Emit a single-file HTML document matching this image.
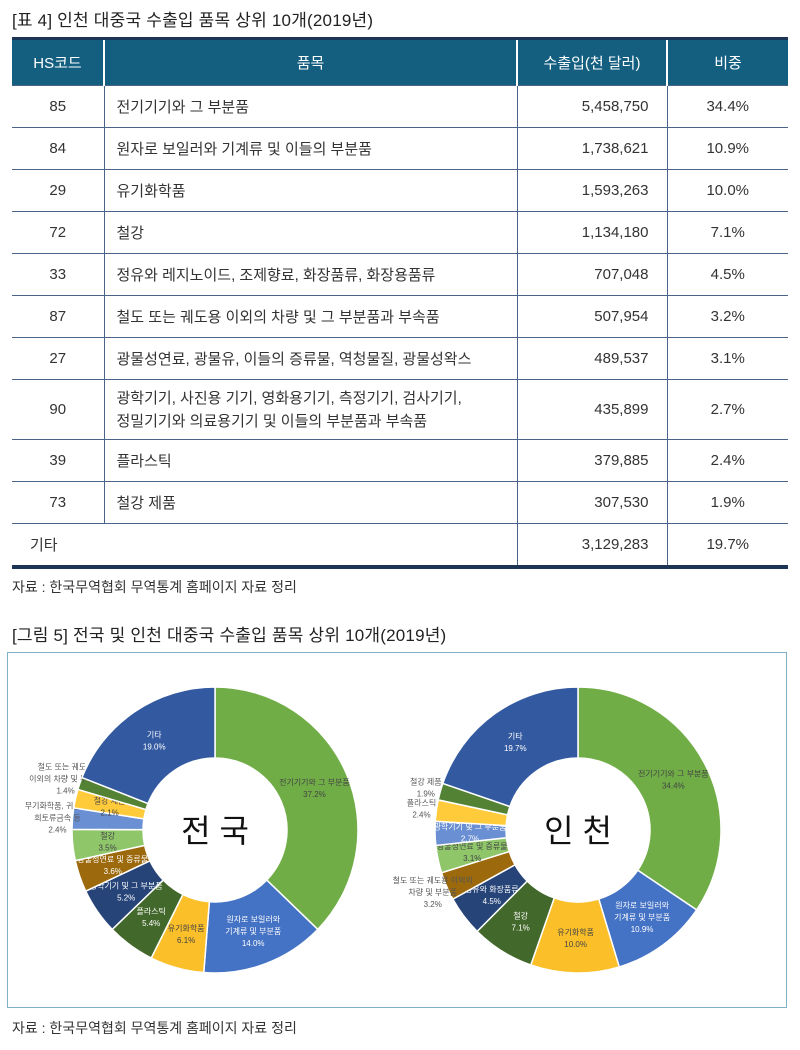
<!DOCTYPE html>
<html><head><meta charset="utf-8">
<style>
body{margin:0;width:800px;height:1050px;background:#fff;font-family:"Liberation Sans","Noto Sans CJK KR",sans-serif;color:#222;position:relative;overflow:hidden}
.title{position:absolute;left:12px;font-size:17px;color:#222;letter-spacing:0.2px}
table{position:absolute;left:12px;top:37px;width:776px;border-collapse:collapse;font-size:15px;color:#333}
th{background:#145f80;color:#fff;font-weight:normal;height:43px;border-left:2px solid #fff;border-top:3px solid #1c3555}
th:first-child{border-left:none}
td{border-top:1.5px solid #4a6388;height:41px;padding:0}
td.c{text-align:center}
td.n{text-align:right;padding-right:18px}
td.p{padding-left:12px}
td+td{border-left:1.5px solid #4a6388}
tr:last-child td{border-bottom:4px solid #1c3555}
.src{position:absolute;left:12px;font-size:14px;color:#333}
#chartbox{position:absolute;left:7px;top:652px;width:778px;height:354px;border:1.5px solid #7fb0c8}
</style></head><body>
<div class="title" style="top:6px">[표 4] 인천 대중국 수출입 품목 상위 10개(2019년)</div>
<table>
<tr><th style="width:89px">HS코드</th><th style="width:409px">품목</th><th style="width:146px">수출입(천 달러)</th><th>비중</th></tr>
<tr><td class="c">85</td><td class="p">전기기기와 그 부분품</td><td class="n">5,458,750</td><td class="c">34.4%</td></tr>
<tr><td class="c">84</td><td class="p">원자로 보일러와 기계류 및 이들의 부분품</td><td class="n">1,738,621</td><td class="c">10.9%</td></tr>
<tr><td class="c">29</td><td class="p">유기화학품</td><td class="n">1,593,263</td><td class="c">10.0%</td></tr>
<tr><td class="c">72</td><td class="p">철강</td><td class="n">1,134,180</td><td class="c">7.1%</td></tr>
<tr><td class="c">33</td><td class="p">정유와 레지노이드, 조제향료, 화장품류, 화장용품류</td><td class="n">707,048</td><td class="c">4.5%</td></tr>
<tr><td class="c">87</td><td class="p">철도 또는 궤도용 이외의 차량 및 그 부분품과 부속품</td><td class="n">507,954</td><td class="c">3.2%</td></tr>
<tr><td class="c">27</td><td class="p">광물성연료, 광물유, 이들의 증류물, 역청물질, 광물성왁스</td><td class="n">489,537</td><td class="c">3.1%</td></tr>
<tr><td class="c" style="height:59px">90</td><td class="p" style="line-height:23px">광학기기, 사진용 기기, 영화용기기, 측정기기, 검사기기,<br>정밀기기와 의료용기기 및 이들의 부분품과 부속품</td><td class="n">435,899</td><td class="c">2.7%</td></tr>
<tr><td class="c">39</td><td class="p">플라스틱</td><td class="n">379,885</td><td class="c">2.4%</td></tr>
<tr><td class="c">73</td><td class="p">철강 제품</td><td class="n">307,530</td><td class="c">1.9%</td></tr>
<tr><td colspan="2" style="padding-left:18px">기타</td><td class="n">3,129,283</td><td class="c">19.7%</td></tr>
</table>
<div class="src" style="top:577px">자료 : 한국무역협회 무역통계 홈페이지 자료 정리</div>
<div class="title" style="top:621px">[그림 5] 전국 및 인천 대중국 수출입 품목 상위 10개(2019년)</div>
<div id="chartbox"></div>
<svg id="svg" width="800" height="1050" style="position:absolute;left:0;top:0"></svg>
<div class="src" style="top:1018px">자료 : 한국무역협회 무역통계 홈페이지 자료 정리</div>
<script>
const colors=["#70ad47","#4472c4","#fbbf2a","#43682b","#264478","#9c6a0c","#8fc66a","#6a8fd2","#ffcb3a","#548235","#335aa1"];
const nationValues=[37.2,14.0,6.1,5.4,5.2,3.6,3.5,2.4,2.1,1.4,19.0];
const nationLabels=["전기기기와 그 부분품","원자로 보일러와\n기계류 및 부분품","유기화학품","플라스틱","광학기기 및 그 부분품","광물성연료 및 증류물","철강","무기화학품, 귀금속,\n희토류금속 등","철강 제품","철도 또는 궤도용\n이외의 차량 및 부분품","기타"];
const nationOutside=[0,0,0,0,0,0,0,1,0,1,0];
const incheonValues=[34.4,10.9,10.0,7.1,4.5,3.2,3.1,2.7,2.4,1.9,19.7];
const incheonLabels=["전기기기와 그 부분품","원자로 보일러와\n기계류 및 부분품","유기화학품","철강","정유와 화장품류","철도 또는 궤도용 이외의\n차량 및 부분품","광물성연료 및 증류물","광학기기 및 그 부분품","플라스틱","철강 제품","기타"];
const incheonOutside=[0,0,0,0,0,1,0,0,1,1,0];
const darkText=[1,0,1,0,0,0,1,0,1,0,0];
const NS="http://www.w3.org/2000/svg";
const svg=document.getElementById('svg');
function pt(cx,cy,r,a){return [cx+r*Math.sin(a),cy-r*Math.cos(a)];}
function donut(cx,cy,values,labels,outside,title,name){
  const R=143,r=72,total=values.reduce((a,b)=>a+b,0);
  let cum=0;
  values.forEach((v,i)=>{
    const a0=cum/total*2*Math.PI,a1=(cum+v)/total*2*Math.PI;cum+=v;
    const [x0,y0]=pt(cx,cy,R,a0),[x1,y1]=pt(cx,cy,R,a1),[x2,y2]=pt(cx,cy,r,a1),[x3,y3]=pt(cx,cy,r,a0);
    const lg=(a1-a0)>Math.PI?1:0;
    const p=document.createElementNS(NS,'path');
    p.setAttribute('d',`M${x0},${y0}A${R},${R} 0 ${lg} 1 ${x1},${y1}L${x2},${y2}A${r},${r} 0 ${lg} 0 ${x3},${y3}Z`);
    p.setAttribute('fill',colors[i]);p.setAttribute('stroke','#fff');p.setAttribute('stroke-width','1.5');
    
    
    svg.appendChild(p);
    const am=(a0+a1)/2,lr=outside[i]?158:108;
    const [lx,ly]=pt(cx,cy,lr,am);
    const lines=(labels[i]+"\n"+v.toFixed(1)+"%").split("\n");
    const t=document.createElementNS(NS,'text');
    t.setAttribute('x',lx);t.setAttribute('y',ly-(lines.length-1)*6+3);
    t.setAttribute('text-anchor','middle');t.setAttribute('font-size','8');
    t.setAttribute('fill',outside[i]?'#555':(darkText[i]?'#444':'#fff'));
    
    
    lines.forEach((s,k)=>{const ts=document.createElementNS(NS,'tspan');ts.setAttribute('x',lx);if(k)ts.setAttribute('dy','12');ts.textContent=s;t.appendChild(ts);});
    svg.appendChild(t);
  });
  const c=document.createElementNS(NS,'text');
  c.setAttribute('x',cx);c.setAttribute('y',cy+12);c.setAttribute('text-anchor','middle');
  c.setAttribute('font-size','32');c.setAttribute('fill','#111');c.textContent=title;
  
  
  svg.appendChild(c);
}
donut(215,830,nationValues,nationLabels,nationOutside,"전 국","nation");
donut(578,830,incheonValues,incheonLabels,incheonOutside,"인 천","incheon");
</script>
</body></html>
